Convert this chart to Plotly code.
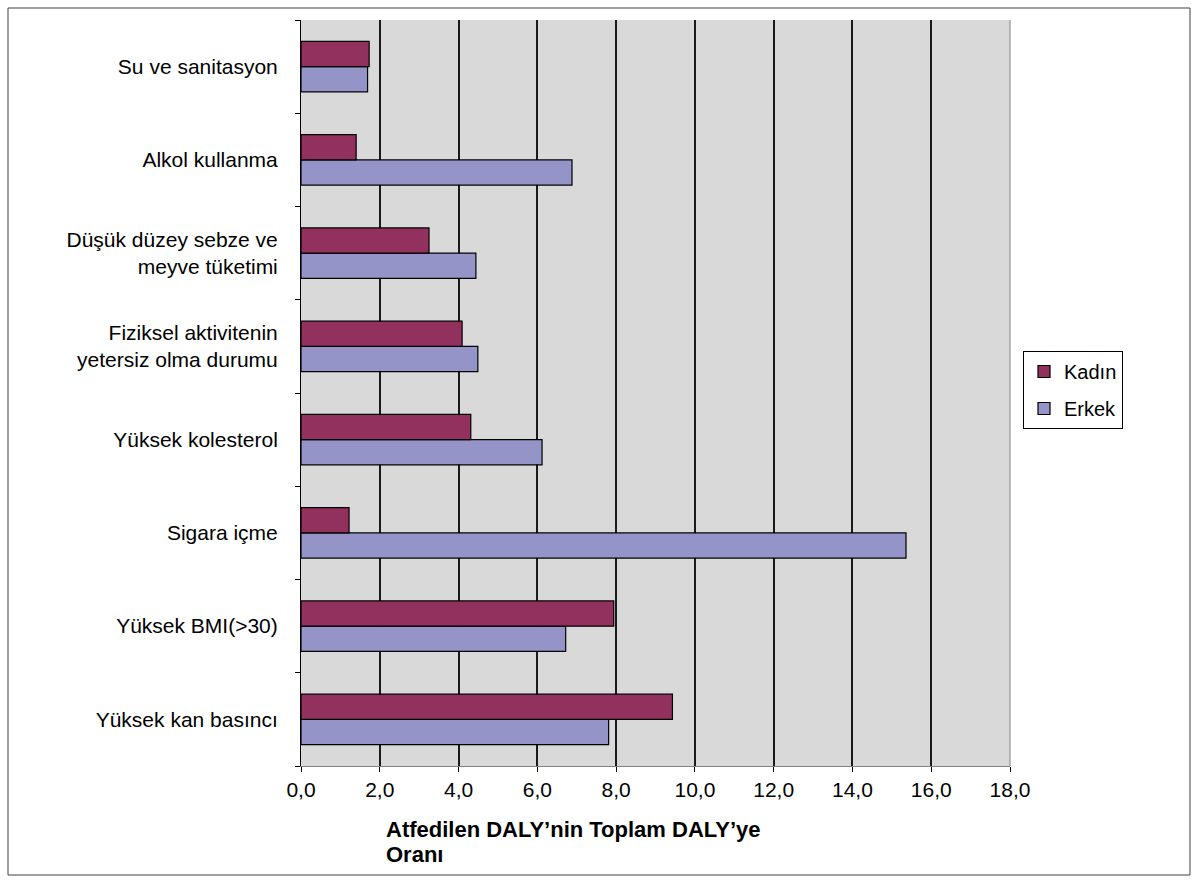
import plotly.graph_objects as go

categories = ["Yüksek kan basıncı", "Yüksek BMI(>30)", "Sigara içme", "Yüksek kolesterol",
              "Fiziksel aktivitenin<br>yetersiz olma durumu", "Düşük düzey sebze ve<br>meyve tüketimi",
              "Alkol kullanma", "Su ve sanitasyon"]
kadin = [9.43, 7.94, 1.22, 4.31, 4.09, 3.25, 1.40, 1.73]
erkek = [7.81, 6.72, 15.36, 6.12, 4.49, 4.44, 6.88, 1.69]
x_ticks = [0, 2, 4, 6, 8, 10, 12, 14, 16, 18]
x_title_lines = ["Atfedilen DALY’nin Toplam DALY’ye", "Oranı"]

FONT = "Liberation Sans, Arial, sans-serif"
L, R, T, B = 301, 1010, 20, 766
W, H = 1198, 883

fig = go.Figure()
fig.add_trace(go.Bar(y=categories, x=erkek, orientation="h", name="Erkek",
                     marker=dict(color="#9494c8", line=dict(color="#000000", width=1.2)),
                     legendrank=2, legendgroup="e"))
fig.add_trace(go.Bar(y=categories, x=kadin, orientation="h", name="Kadın",
                     marker=dict(color="#92305e", line=dict(color="#000000", width=1.2)),
                     legendrank=1, legendgroup="k"))


def px_x(p):
    return (p - L) / (R - L)


def px_y(p):
    return (B - p) / (B - T)


annotations = []
for i, (line, ypix) in enumerate(zip(x_title_lines, [829, 854])):
    annotations.append(dict(text="<b>" + line + "</b>", xref="paper", yref="paper",
                            x=px_x(384), y=px_y(ypix), xanchor="left", yanchor="middle",
                            align="left", showarrow=False,
                            font=dict(size=22, family=FONT, color="#000000")))

fig.update_layout(
    width=W, height=H,
    margin=dict(l=L, r=W - R, t=T, b=H - B),
    paper_bgcolor="white",
    plot_bgcolor="#d9d9d9",
    barmode="group",
    bargap=0.46,
    bargroupgap=0,
    separators=",.",
    font=dict(family=FONT, size=21, color="#000000"),
    xaxis=dict(range=[0, 18], tickvals=x_ticks, tickformat=".1f",
               showgrid=True, gridcolor="#1a1a1a", gridwidth=1.6,
               showline=True, linecolor="#808080", linewidth=1,
               ticks="outside", ticklen=5, tickcolor="#000000",
               ticklabelstandoff=0,
               zeroline=False, tickfont=dict(size=21, family=FONT)),
    yaxis=dict(type="category", categoryorder="array", categoryarray=categories,
               showline=True, linecolor="#000000", linewidth=1,
               ticks="outside", ticklen=5, tickcolor="#000000", tickson="boundaries",
               ticklabelstandoff=18,
               showgrid=False, tickfont=dict(size=21, family=FONT)),
    legend=dict(x=px_x(1023), y=px_y(351), xanchor="left", yanchor="top",
                bgcolor="white", bordercolor="#000000", borderwidth=1,
                font=dict(size=20, family=FONT), itemwidth=30,
                traceorder="grouped", tracegroupgap=8),
    shapes=[
        dict(type="rect", xref="paper", yref="paper",
             x0=px_x(8), x1=px_x(1190), y0=px_y(875), y1=px_y(8),
             line=dict(color="#404040", width=1), layer="below"),
        dict(type="line", xref="paper", yref="paper",
             x0=1, x1=1, y0=0, y1=1, line=dict(color="#808080", width=1)),
    ],
    annotations=annotations,
)

fig.write_html("out.html")
